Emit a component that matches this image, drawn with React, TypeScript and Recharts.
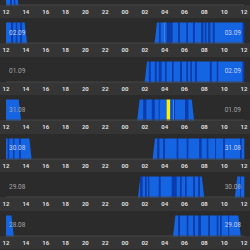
import React from "react";
import { Bar, BarChart, XAxis, YAxis } from "recharts";

type Span = [number, number];
interface Block {
  from: number; // hours after 12:00
  to: number;
  deep?: Span[];
  awake?: Span[];
  rem?: Span[];
}

const TICK_LABELS = ["12", "14", "16", "18", "20", "22", "00", "02", "04", "06", "08", "10", "12"];
const TICKS = TICK_LABELS.map((_, i) => i * 2);

// left / right date of every row, top to bottom (top row is scrolled out of view)
const LEFT_DATES = ["", "02.09", "01.09", "31.08", "30.08", "29.08", "28.08"];
const RIGHT_DATES = ["", "03.09", "02.09", "01.09", "31.08", "30.08", "29.08"];

const row0: Block[] = [{ from: 0, to: 1.14, deep: [[0.4, 0.6], [0.8, 0.94]] }];
const row1: Block[] = [
  { from: 0, to: 2.0, deep: [[0.5, 0.72], [0.98, 1.14], [1.42, 1.62]] },
  {
    from: 15.1,
    to: 24,
    deep: [[15.45, 15.6], [16.2, 16.8], [17.35, 17.55], [18.2, 18.35], [18.85, 19.05], [19.7, 19.9], [20.05, 20.2], [20.4, 20.6], [20.85, 21.05], [23.85, 24]],
    rem: [[15.96, 16.04]],
  },
];
const row2: Block[] = [
  {
    from: 14.1,
    to: 24,
    deep: [[14.4, 14.6], [15.0, 15.2], [15.4, 15.7], [16.05, 16.2], [16.75, 16.9], [17.55, 17.75], [18.2, 18.35], [18.6, 18.75], [19.05, 19.25], [20.55, 20.75], [21.25, 21.4], [23.85, 24]],
  },
];
const row3: Block[] = [
  { from: 0, to: 1.4 },
  {
    from: 13.35,
    to: 18.85,
    deep: [[13.85, 14.15], [14.7, 15.0], [15.4, 15.5], [16.7, 16.77], [16.94, 17.04], [18.05, 18.4]],
    awake: [[16.2, 16.54]],
    rem: [[16.85, 16.92]],
  },
];
const row4: Block[] = [
  { from: 0, to: 2.47, deep: [[0.17, 0.32], [0.74, 0.84], [1.34, 1.5]] },
  {
    from: 14.9,
    to: 24,
    deep: [[15.26, 15.46], [15.86, 16.03], [17.21, 17.37], [18.22, 18.38], [19.49, 19.73], [20.24, 20.4], [21.08, 21.18], [21.91, 22.08], [23.6, 23.77]],
  },
];
const row5: Block[] = [
  {
    from: 13.43,
    to: 19.87,
    deep: [[13.51, 13.78], [14.02, 14.19], [14.35, 14.45], [15.4, 15.6], [16.71, 17.21], [17.55, 17.72], [18.05, 18.22], [18.89, 19.06], [19.39, 19.56]],
  },
  { from: 23.2, to: 24, deep: [[23.6, 23.7]] },
];
const row6: Block[] = [
  { from: 0, to: 0.67 },
  {
    from: 16.96,
    to: 23.55,
    deep: [[17.37, 17.55], [18.22, 18.38], [18.89, 19.06], [19.39, 19.66], [20.4, 20.57], [21.25, 21.41], [21.58, 21.75], [22.4, 22.5]],
  },
];
const ROWS = [row0, row1, row2, row3, row4, row5, row6];

const COLORS: Record<string, string> = {
  gap: "none",
  light: "#1565e3",
  deep: "#0a3cae",
  rem: "#5b8ff0",
  awake: "#ffee00",
};

const PITCH = 38.5;
const BAR_AREA = 25;

interface Seg {
  dur: number;
  kind: string;
  slantL?: boolean;
  slantR?: boolean;
}

function toSegments(blocks: Block[]): Seg[] {
  const segs: Seg[] = [];
  let cur = 0;
  for (const b of blocks) {
    if (b.from > cur) segs.push({ dur: b.from - cur, kind: "gap" });
    const marks = [
      ...(b.deep || []).map((s) => ({ s, kind: "deep" })),
      ...(b.awake || []).map((s) => ({ s, kind: "awake" })),
      ...(b.rem || []).map((s) => ({ s, kind: "rem" })),
    ].sort((a, c) => a.s[0] - c.s[0]);
    const first = segs.length;
    let t = b.from;
    for (const m of marks) {
      if (m.s[0] > t) segs.push({ dur: m.s[0] - t, kind: "light" });
      segs.push({ dur: m.s[1] - m.s[0], kind: m.kind });
      t = m.s[1];
    }
    if (b.to > t) segs.push({ dur: b.to - t, kind: "light" });
    segs[first].slantL = b.from > 0;
    segs[segs.length - 1].slantR = b.to < 24;
    cur = b.to;
  }
  return segs;
}

const makeShape = (seg: Seg) => (p: any) => {
  const { x, y, width, height, fill } = p;
  if (!width || fill === "none") return <g />;
  const s = 1.2;
  const w = width + (seg.slantR ? 0 : 0.3);
  const tl = x + (seg.slantL ? s : 0);
  const bl = x - (seg.slantL ? s : 0);
  const tr = x + w - (seg.slantR ? s : 0);
  const br = x + w + (seg.slantR ? s : 0);
  return <path d={`M${bl},${y + height}L${tl},${y}L${tr},${y}L${br},${y + height}Z`} fill={fill} />;
};

function DayRow({ blocks, left, right, top }: { blocks: Block[]; left: string; right: string; top: number }) {
  const segs = toSegments(blocks);
  const datum: Record<string, any> = { row: "r" };
  segs.forEach((s, i) => (datum[`s${i}`] = s.dur));
  const leftIn = blocks.some((b) => b.from <= 0.3 && b.to >= 1.5);
  const rightIn = blocks.some((b) => b.from <= 22 && b.to >= 23.3);
  const labelY = 4.5 + 10.25;
  const labelStyle: React.CSSProperties = {
    position: "absolute",
    top: labelY - 4,
    height: 8,
    lineHeight: "8px",
    fontSize: 6.5,
    fontFamily: "Roboto, sans-serif",
  };

  return (
    <div
      style={{
        position: "absolute",
        left: 0,
        top,
        width: 250,
        height: PITCH,
        background: `linear-gradient(#2b2b2b 0 ${BAR_AREA}px, #353535 ${BAR_AREA}px)`,
      }}
    >
      <BarChart
        width={250}
        height={PITCH}
        layout="vertical"
        data={[datum]}
        margin={{ top: 4.5, right: 6, bottom: 0, left: 6 }}
        barCategoryGap={0}
      >
        <XAxis
          type="number"
          domain={[0, 24]}
          ticks={TICKS}
          interval={0}
          tickFormatter={(v: number) => TICK_LABELS[v / 2]}
          height={13.5}
          tickSize={0}
          tickMargin={4.4}
          tickLine={false}
          axisLine={{ stroke: "#474747" }}
          tick={{ fill: "#dcdcdc", fontSize: 6, fontWeight: 700, fontFamily: "Roboto, sans-serif" }}
        />
        <YAxis type="category" dataKey="row" hide />
        {segs.map((s, i) => (
          <Bar
            key={i}
            dataKey={`s${i}`}
            stackId="day"
            fill={COLORS[s.kind]}
            isAnimationActive={false}
            shape={makeShape(s)}
          />
        ))}
      </BarChart>
      {left && <div style={{ ...labelStyle, left: 9, color: leftIn ? "#c8cdf2" : "#a4a4a4" }}>{left}</div>}
      {right && <div style={{ ...labelStyle, right: 9, color: rightIn ? "#c8cdf2" : "#a4a4a4" }}>{right}</div>}
    </div>
  );
}

export default function App() {
  return (
    <div
      style={{
        position: "fixed",
        left: 0,
        top: 0,
        width: 250,
        height: 250,
        overflow: "hidden",
        background: "#2b2b2b",
      }}
    >
      {ROWS.map((blocks, i) => (
        <DayRow key={i} blocks={blocks} left={LEFT_DATES[i]} right={RIGHT_DATES[i]} top={-20.5 + i * PITCH} />
      ))}
    </div>
  );
}
